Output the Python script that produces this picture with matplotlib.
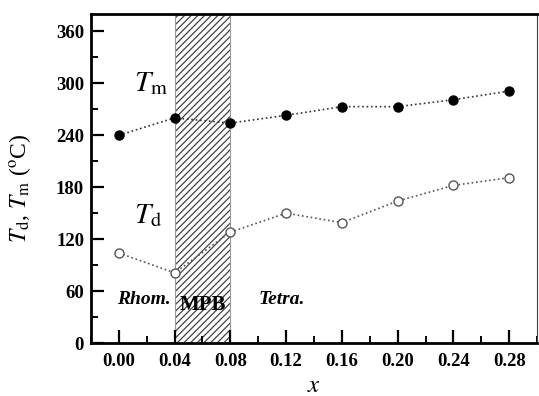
import matplotlib
matplotlib.use("Agg")
import matplotlib.pyplot as plt
from matplotlib.ticker import MultipleLocator
from matplotlib.patches import Rectangle

x = [0.00, 0.04, 0.08, 0.12, 0.16, 0.20, 0.24, 0.28]
Tm = [240, 260, 254, 263, 273, 273, 281, 291]
Td = [104, 81, 128, 150, 139, 164, 182, 191]
xticks = [0.00, 0.04, 0.08, 0.12, 0.16, 0.20, 0.24, 0.28]
yticks = [0, 60, 120, 180, 240, 300, 360]

plt.rcParams['font.family'] = ['Liberation Serif', 'DejaVu Serif']
plt.rcParams['mathtext.fontset'] = 'stix'
plt.rcParams['hatch.linewidth'] = 0.9

fig = plt.figure(figsize=(5.39, 3.96), dpi=100)
ax = fig.add_axes([0.1688, 0.1338, 0.8275, 0.8308])

ax.add_patch(Rectangle((0.04, 0), 0.04, 380, facecolor='white', edgecolor='#444444',
                       hatch='/////', linewidth=0, zorder=1))
ax.add_patch(Rectangle((0.04, 0), 0.04, 380, facecolor='none', edgecolor='#999999',
                       linewidth=0.8, zorder=1))

ax.plot(x, Tm, linestyle=':', color='#333333', linewidth=1.2, marker='o',
        markersize=6.5, markerfacecolor='black', markeredgecolor='black', zorder=3)
ax.plot(x, Td, linestyle=':', color='#555555', linewidth=1.2, marker='o',
        markersize=6.5, markerfacecolor='white', markeredgecolor='#555555',
        markeredgewidth=1.0, zorder=3)

ax.set_xlim(-0.02, 0.30)
ax.set_ylim(0, 380)
ax.set_xticks(xticks)
ax.set_yticks(yticks)
ax.set_xticklabels([f"{v:.2f}" for v in xticks], fontweight='bold', fontsize=13.5)
ax.set_yticklabels([str(v) for v in yticks], fontweight='bold', fontsize=13.5)
ax.xaxis.set_minor_locator(MultipleLocator(0.02))
ax.yaxis.set_minor_locator(MultipleLocator(30))
ax.tick_params(which='major', direction='in', length=9.5, width=1.6, pad=7)
ax.tick_params(which='minor', direction='in', length=5, width=1.4)
ax.tick_params(axis='y', which='major', pad=5)
ax.tick_params(top=False, right=False, which='both')

for s in ['left', 'bottom', 'top']:
    ax.spines[s].set_linewidth(2.0)
ax.spines['right'].set_linewidth(0.8)
ax.spines['right'].set_color('#444444')

ax.set_xlabel(r'$x$', fontsize=18, labelpad=4)
ax.set_ylabel(r'$T_{\rm d}$, $T_{\rm m}$ ($^{\rm o}$C)', fontsize=17)
ax.yaxis.set_label_coords(-0.13, 0.47)

ax.text(0.011, 300, r'$T_{\rm m}$', fontsize=21, ha='left', va='center')
ax.text(0.011, 147, r'$T_{\rm d}$', fontsize=21, ha='left', va='center')
ax.text(-0.001, 50, 'Rhom.', fontsize=14, fontweight='bold', fontstyle='italic',
        ha='left', va='center')
ax.text(0.06, 44, 'MPB', fontsize=15, fontweight='bold', ha='center', va='center')
ax.text(0.1, 50, 'Tetra.', fontsize=14, fontweight='bold', fontstyle='italic',
        ha='left', va='center')

fig.savefig('out.png', dpi=100)
